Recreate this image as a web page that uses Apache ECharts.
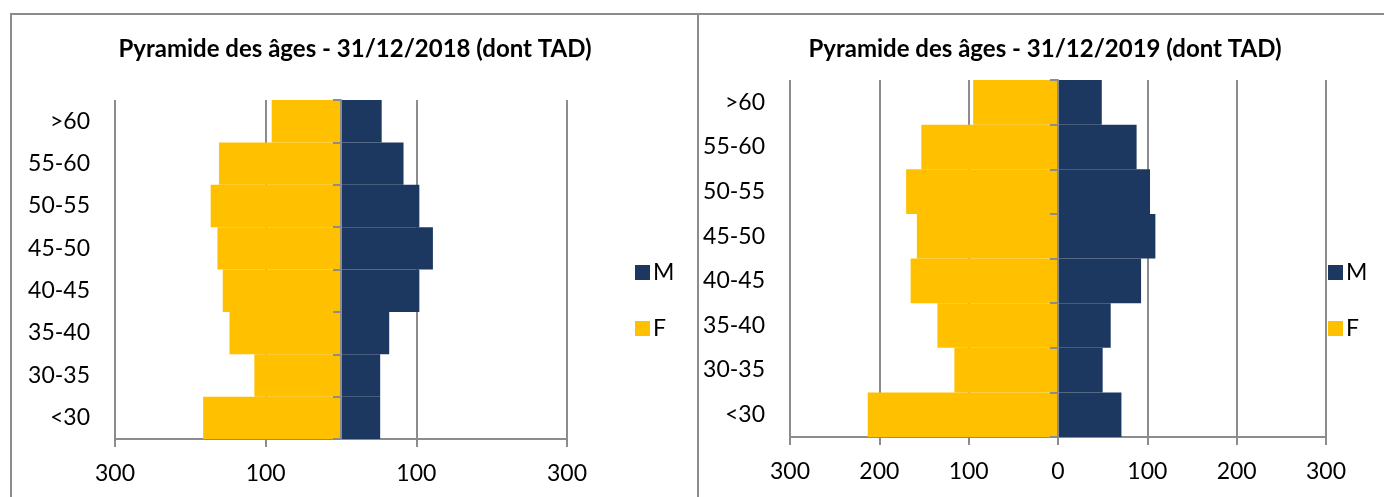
<!DOCTYPE html>
<html>
<head>
<meta charset="utf-8">
<script src="https://cdn.jsdelivr.net/npm/echarts@6/dist/echarts.min.js"></script>
<style>
  html, body { margin: 0; padding: 0; background: #fff; }
  #pyramid-chart { width: 1384px; height: 497px; }
  .panel {
    position: absolute;
    top: 13px;
    height: 500px;
    border-left: 2px solid #8c8c8c;
    border-top: 2px solid #8c8c8c;
    pointer-events: none;
  }
</style>
</head>
<body>
<div id="pyramid-chart"></div>
<div class="panel" style="left:10px;width:688px;"></div>
<div class="panel" style="left:697px;width:700px;"></div>
<script>
  // tranches d'âge, du bas vers le haut
  const ageGroups = ['<30', '30-35', '35-40', '40-45', '45-50', '50-55', '55-60', '>60'];

  // 31/12/2018
  const men2018 = [52, 52, 64, 104, 122, 104, 83, 54];
  const women2018 = [183, 115, 148, 157, 164, 173, 162, 92];

  // 31/12/2019
  const men2019 = [71, 50, 59, 93, 109, 103, 88, 49];
  const women2019 = [213, 116, 135, 165, 158, 170, 153, 95];

  const titles = [
    'Pyramide des âges - 31/12/2018 (dont TAD)',
    'Pyramide des âges - 31/12/2019 (dont TAD)'
  ];

  const colorM = '#1c3861';
  const colorF = '#ffc000';
  const gridColor = '#8c8c8c';
  const font = 'Lato';

  let chart = echarts.init(document.getElementById('pyramid-chart'));

  /* axe des valeurs (absolu) */
  function valueAxis(gridIndex, interval) {
    return {
      type: 'value',
      gridIndex: gridIndex,
      min: -300,
      max: 300,
      interval: interval,
      axisLine: { show: true, onZero: false, lineStyle: { color: gridColor, width: 2 } },
      axisTick: { show: true, length: 8, lineStyle: { color: gridColor, width: 2 } },
      axisLabel: {
        color: '#000',
        fontFamily: font,
        fontSize: 23,
        margin: 23,
        formatter: function (v) { return Math.abs(v); }
      },
      splitLine: { show: true, lineStyle: { color: gridColor, width: 2 } }
    };
  }

  /* libellés à gauche */
  function labelAxis(gridIndex) {
    return {
      type: 'category',
      gridIndex: gridIndex,
      data: ageGroups,
      axisLine: { show: false, onZero: false },
      axisTick: { show: false },
      axisLabel: { color: '#000', fontFamily: font, fontSize: 23, margin: 25 },
      splitLine: { show: false }
    };
  }

  /* ligne centrale avec graduations, au-dessus des barres */
  function centerAxis(gridIndex) {
    return {
      type: 'category',
      gridIndex: gridIndex,
      position: 'left',
      z: 5,
      data: ageGroups,
      axisLine: { show: true, onZero: true, lineStyle: { color: gridColor, width: 2 } },
      axisTick: { show: true, length: 8, lineStyle: { color: gridColor, width: 2 } },
      axisLabel: { show: false },
      splitLine: { show: false }
    };
  }

  function barSeries(name, values, color, gridIndex, negative) {
    return {
      name: name,
      type: 'bar',
      stack: 'g' + gridIndex,
      xAxisIndex: gridIndex,
      yAxisIndex: gridIndex * 2,
      data: negative ? values.map(function (v) { return -v; }) : values,
      barCategoryGap: 0,
      barGap: '-100%',
      itemStyle: { color: color },
      emphasis: { disabled: true }
    };
  }

  function legend(left) {
    return {
      data: ['M', 'F'],
      orient: 'vertical',
      left: left,
      top: 256,
      itemWidth: 15,
      itemHeight: 15,
      itemGap: 33,
      icon: 'rect',
      selectedMode: false,
      textStyle: { color: '#000', fontFamily: font, fontSize: 23, padding: [0, 0, 0, -2] }
    };
  }

  let option = {
    animation: false,
    title: [
      {
        text: titles[0], left: 355, top: 37, textAlign: 'center', padding: 0,
        textStyle: { fontFamily: font, fontSize: 24, fontWeight: 'bold', color: '#000' }
      },
      {
        text: titles[1], left: 1045, top: 37, textAlign: 'center', padding: 0,
        textStyle: { fontFamily: font, fontSize: 24, fontWeight: 'bold', color: '#000' }
      }
    ],
    legend: [legend(630), legend(1323)],
    grid: [
      { left: 115, right: 817, top: 100, bottom: 58, containLabel: false },
      { left: 790, right: 58, top: 80, bottom: 60, containLabel: false }
    ],
    xAxis: [valueAxis(0, 200), valueAxis(1, 100)],
    yAxis: [labelAxis(0), centerAxis(0), labelAxis(1), centerAxis(1)],
    series: [
      barSeries('F', women2018, colorF, 0, true),
      barSeries('M', men2018, colorM, 0, false),
      barSeries('F', women2019, colorF, 1, true),
      barSeries('M', men2019, colorM, 1, false)
    ]
  };
  chart.setOption(option, true);
</script>
</body>
</html>
